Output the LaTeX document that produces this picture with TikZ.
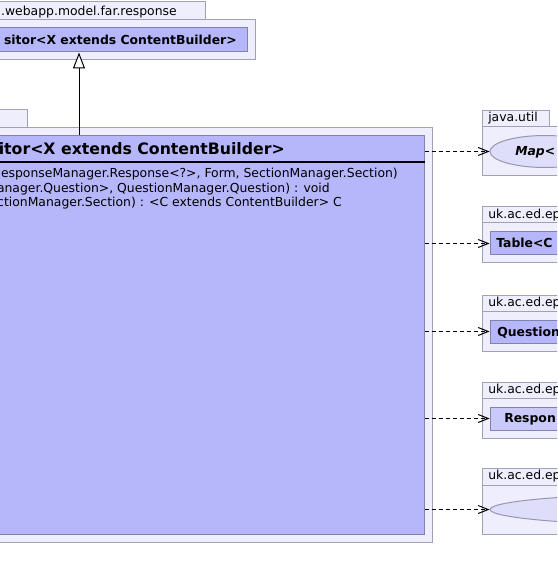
\documentclass[tikz,border=0pt]{standalone}
\usepackage{fontspec}
\setmainfont{DejaVu Sans}
\usetikzlibrary{arrows.meta,shapes.geometric,fit}
\definecolor{pkgfill}{RGB}{238,238,252}
\definecolor{pkgline}{RGB}{160,160,182}
\definecolor{clsfill}{RGB}{182,182,250}
\definecolor{clsfilllt}{RGB}{202,202,250}
\definecolor{clsline}{RGB}{130,130,172}
\definecolor{ellfill}{RGB}{222,222,250}
\definecolor{ellline}{RGB}{150,150,180}
\begin{document}
\begin{tikzpicture}[x=0.75pt,y=-0.75pt,
  pkg/.style={draw=pkgline,fill=pkgfill,line width=0.75pt},
  clsbox/.style={draw=clsline,fill=clsfill,line width=0.75pt,inner sep=0pt},
  clsboxlt/.style={clsbox,fill=clsfilllt},
  ellnode/.style={ellipse,draw=ellline,fill=ellfill,line width=0.75pt,inner sep=0pt},
  lbl/.style={font=\fontsize{9.3pt}{11pt}\selectfont,inner sep=0pt},
  bname/.style={font=\fontsize{9.3pt}{11pt}\selectfont\bfseries,inner sep=0pt},
  iname/.style={font=\fontsize{9.3pt}{11pt}\selectfont\bfseries\itshape,inner sep=0pt},
  tname/.style={font=\fontsize{11.8pt}{14pt}\selectfont\bfseries,inner sep=0pt},
  dep/.style={line width=0.75pt,dash pattern=on 3pt off 2.25pt,-{Straight Barb[length=7.5pt,width=6pt]}},
  inh/.style={line width=0.75pt,-{Triangle[length=12pt,width=9pt,fill=white]}}
]
\useasboundingbox (0,0) rectangle (557,580);
\clip (0,0) rectangle (557,580);

% top package
\draw[pkg] (-300,2) rectangle (205,20);
\draw[pkg] (-300,20) rectangle (255,60);
\node[clsbox,fit={(-89,28) (247,52)}] (sup) {};
\node[lbl,anchor=base east] (supPkg) at (177,16) {.webapp.model.far.response};
\node[bname,anchor=base east] (supName) at (237,44.5) {sitor<X extends ContentBuilder>};

% main package
\draw[pkg] (-300,110) rectangle (27,128);
\draw[pkg] (-300,128) rectangle (432,542);
\node[clsbox,fit={(-266,136) (424,534)}] (main) {};
\draw[line width=1.5pt] (main.west |- 0,162) -- (main.east |- 0,162);
\node[tname,anchor=base east] (mainName) at (285,155) {itor<X extends ContentBuilder>};
\node[lbl,anchor=base east] (m1) at (398,178) {esponseManager.Response<?>, Form, SectionManager.Section)};
\node[lbl,anchor=base east] (m2) at (330,192.5) {anager.Question>, QuestionManager.Question) : void};
\node[lbl,anchor=base east] (m3) at (342,207) {ctionManager.Section) : <C extends ContentBuilder> C};

% java.util
\draw[pkg] (482,111) rectangle (549,127);
\draw[pkg] (482,127) rectangle (700,176);
\node[lbl,anchor=base west] (p1) at (488,121.5) {java.util};
\node[ellnode,minimum width=82.5pt,minimum height=24pt] (map) at (545,151.5) {};
\node[iname,anchor=base west] (mapName) at (515,156) {Map<};

% package 2
\draw[pkg] (482,207) rectangle (700,223);
\draw[pkg] (482,223) rectangle (700,263);
\node[lbl,anchor=base west] (p2) at (488,218.5) {uk.ac.ed.ep};
\node[clsbox,fit={(490,232) (680,255)}] (tbl) {};
\node[bname,anchor=base west] (tblName) at (496,248) {Table<C};

% package 3
\draw[pkg] (482,295) rectangle (700,311);
\draw[pkg] (482,311) rectangle (700,351);
\node[lbl,anchor=base west] (p3) at (488,306.5) {uk.ac.ed.ep};
\node[clsbox,fit={(490,320) (680,343)}] (que) {};
\node[bname,anchor=base west] (queName) at (497,336) {Question};

% package 4
\draw[pkg] (482,382) rectangle (700,398);
\draw[pkg] (482,398) rectangle (700,438);
\node[lbl,anchor=base west] (p4) at (488,393.5) {uk.ac.ed.ep};
\node[clsboxlt,fit={(490,407) (680,430)}] (res) {};
\node[bname,anchor=base west] (resName) at (504,422.5) {Respon};

% package 5
\draw[pkg] (482,468) rectangle (700,485);
\draw[pkg] (482,485) rectangle (700,534);
\node[lbl,anchor=base west] (p5) at (488,479.5) {uk.ac.ed.ep};
\node[ellnode,minimum width=300pt,minimum height=24pt] (ell5) at (690,509.5) {};

% connectors
\draw[inh] (main.north) -- (sup.south);
\draw[dep] (main.east |- map.west) -- (map.west);
\draw[dep] (main.east |- tbl.west) -- (tbl.west);
\draw[dep] (main.east |- que.west) -- (que.west);
\draw[dep] (main.east |- res.west) -- (res.west);
\draw[dep] (main.east |- ell5.west) -- (ell5.west);
\end{tikzpicture}
\end{document}
